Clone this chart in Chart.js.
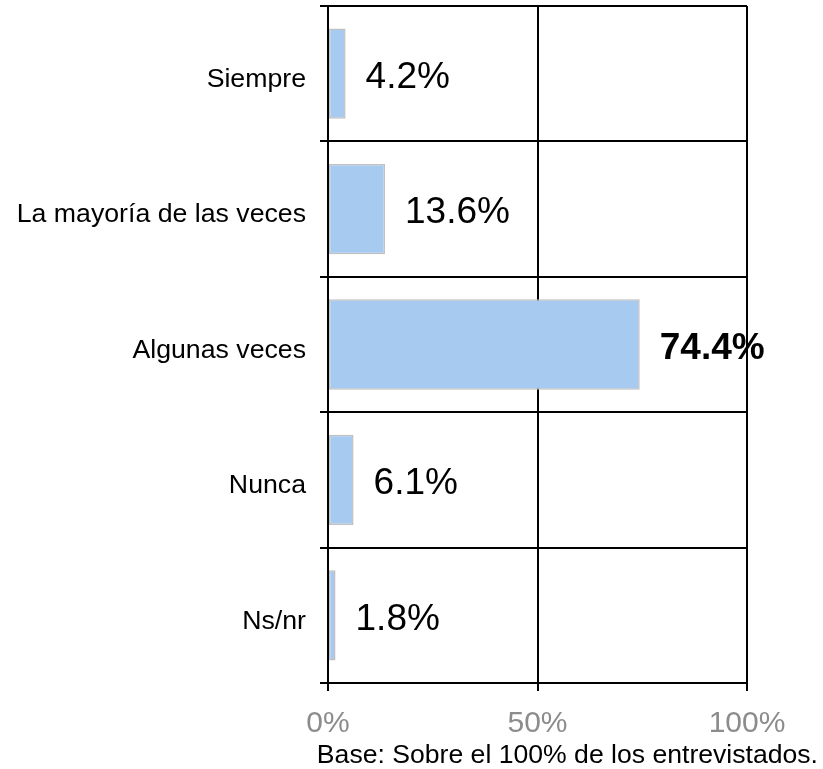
<!DOCTYPE html>
<html>
<head>
<meta charset="utf-8">
<script src="https://cdn.jsdelivr.net/npm/chart.js@4"></script>
<style>
  html, body { margin: 0; padding: 0; background: #fff; }
  canvas { display: block; }
</style>
</head>
<body>
<canvas id="frecuenciaChart" width="823" height="769"></canvas>
<script>
const categorias = ['Siempre', 'La mayoría de las veces', 'Algunas veces', 'Nunca', 'Ns/nr'];
const porcentajes = [4.2, 13.6, 74.4, 6.1, 1.8];
const ticksX = [0, 50, 100];
const nota = 'Base: Sobre el 100% de los entrevistados.';

const FUENTE = 'Arial, "Liberation Sans", sans-serif';

// etiquetas de valor al final de cada barra
const etiquetasPlugin = {
    id: 'etiquetas',
    afterDatasetsDraw(chart) {
        const ctx = chart.ctx;
        const meta = chart.getDatasetMeta(0);
        const maximo = Math.max(...porcentajes);
        ctx.save();
        ctx.fillStyle = '#000';
        ctx.textAlign = 'left';
        ctx.textBaseline = 'middle';
        meta.data.forEach(function(bar, i) {
            const v = porcentajes[i];
            ctx.font = (v === maximo ? 'bold ' : '') + '37px ' + FUENTE;
            ctx.fillText(v.toFixed(1) + '%', bar.x + 20, bar.y + 4);
        });
        ctx.restore();
    }
};

// nota al pie, abajo a la derecha
const notaPlugin = {
    id: 'nota',
    afterDraw(chart) {
        const ctx = chart.ctx;
        ctx.save();
        ctx.fillStyle = '#000';
        ctx.font = '26.6px ' + FUENTE;
        ctx.textAlign = 'right';
        ctx.textBaseline = 'alphabetic';
        ctx.fillText(nota, chart.width - 5, chart.height - 6);
        ctx.restore();
    }
};

document.addEventListener('DOMContentLoaded', function() {
    const ctx = document.getElementById('frecuenciaChart').getContext('2d');
    new Chart(ctx, {
        type: 'bar',
        data: {
            labels: categorias,
            datasets: [{
                data: porcentajes,
                backgroundColor: '#A6CAF0',
                borderColor: '#C0C0C0',
                borderWidth: 1.5,
                borderSkipped: false,
                categoryPercentage: 1,
                barPercentage: 0.667
            }]
        },
        options: {
            indexAxis: 'y',
            responsive: false,
            animation: false,
            devicePixelRatio: 1,
            layout: { padding: { top: 6, right: 76, bottom: 0, left: 0 } },
            scales: {
                x: {
                    min: 0,
                    max: 100,
                    afterBuildTicks: function(axis) {
                        axis.ticks = ticksX.map(v => ({ value: v }));
                    },
                    afterFit: function(axis) {
                        axis.height = 86;
                        axis.paddingLeft = 0;
                        axis.paddingRight = 0;
                    },
                    ticks: {
                        color: '#8C8C8C',
                        font: { family: FUENTE, size: 30 },
                        padding: 15,
                        maxRotation: 0,
                        callback: v => v + '%'
                    },
                    grid: { color: '#000', lineWidth: 2, tickLength: 8 },
                    border: { color: '#000', width: 2 }
                },
                y: {
                    afterFit: function(axis) {
                        axis.width = 328;
                        axis.paddingTop = 0;
                        axis.paddingBottom = 0;
                    },
                    ticks: {
                        color: '#000',
                        font: { family: FUENTE, size: 26.7 },
                        padding: 14,
                        labelOffset: 6
                    },
                    grid: { color: '#000', lineWidth: 2, tickLength: 8, offset: true },
                    border: { color: '#000', width: 2 }
                }
            },
            plugins: {
                legend: { display: false },
                tooltip: { enabled: false },
                title: { display: false }
            }
        },
        plugins: [etiquetasPlugin, notaPlugin]
    });
});
</script>
</body>
</html>
